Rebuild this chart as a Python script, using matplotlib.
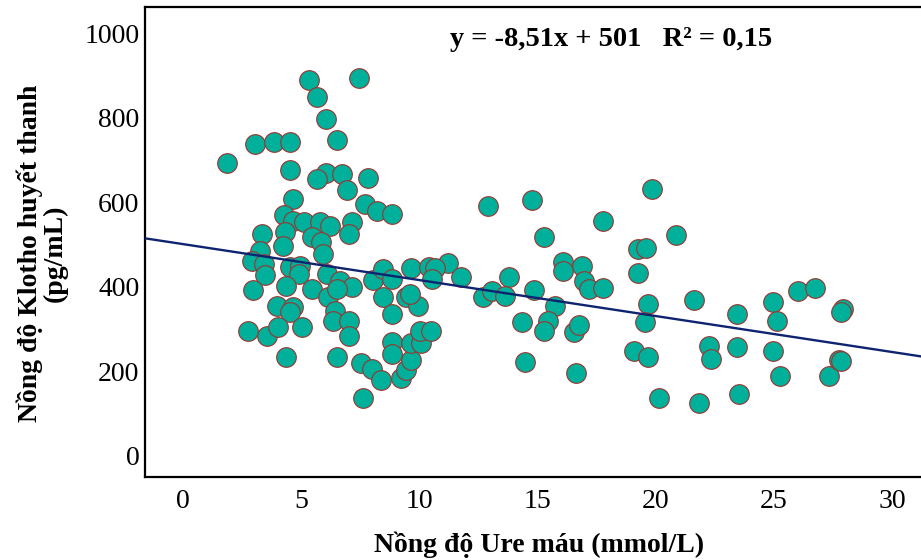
import numpy as np
import matplotlib
matplotlib.use('Agg')
import matplotlib.pyplot as plt

# nong do ure mau (mmol/L) va klotho huyet thanh (pg/mL), doc tu hinh
ure = [5.34, 7.46, 5.68, 6.06, 6.53, 3.05, 3.86, 4.53, 1.86, 4.53,
       6.06, 5.68, 6.74, 7.84, 6.95, 4.66, 7.71, 8.22, 8.86, 4.28,
       4.66, 5.13, 5.81, 6.23, 7.16, 3.35, 4.32, 7.03, 5.47, 5.85,
       4.24, 3.26, 5.93, 11.19, 2.92, 3.43, 4.53, 4.96, 3.47, 4.92,
       6.10, 6.65, 4.36, 5.47, 2.97, 6.14, 7.16, 6.53, 3.98, 4.66,
       4.53, 6.44, 6.36, 7.03, 2.75, 3.56, 4.03, 5.04, 7.03, 4.36,
       6.53, 7.54, 8.01, 8.39, 7.63, 8.86, 8.86, 9.24, 9.45, 9.66,
       9.66, 10.08, 10.04, 10.47, 8.05, 8.47, 8.86, 8.47, 9.45, 9.92,
       8.86, 9.66, 10.42, 10.64, 10.55, 11.74, 12.71, 13.09, 12.92, 14.75,
       19.83, 17.75, 15.25, 20.85, 19.24, 19.58, 16.06, 16.06, 16.86, 16.95,
       17.16, 17.75, 19.24, 13.81, 13.64, 14.83, 15.72, 14.36, 15.42, 15.25,
       16.53, 16.74, 19.66, 19.53, 21.61, 23.43, 24.96, 25.13, 26.02, 26.74,
       27.92, 27.84, 14.45, 16.61, 19.07, 19.66, 22.25, 22.33, 23.43, 24.96,
       25.25, 27.33, 27.75, 27.84, 20.13, 21.82, 23.52, 9.58]
klotho = [889, 894, 849, 797, 747, 738, 742, 742, 693, 676,
          669, 655, 667, 657, 629, 608, 596, 579, 572, 570,
          556, 553, 553, 544, 553, 525, 530, 525, 518, 506,
          496, 485, 478, 456, 461, 454, 447, 449, 428, 430,
          430, 414, 402, 395, 392, 376, 400, 395, 355, 352,
          340, 343, 319, 319, 296, 284, 305, 305, 284, 234,
          234, 220, 206, 180, 137, 270, 241, 184, 203, 227,
          267, 267, 296, 296, 416, 442, 418, 376, 376, 355,
          336, 444, 447, 444, 418, 423, 376, 390, 591, 605,
          631, 556, 518, 522, 489, 492, 459, 437, 449, 414,
          395, 397, 433, 423, 378, 392, 355, 317, 319, 296,
          293, 310, 359, 317, 369, 336, 364, 319, 390, 397,
          348, 340, 222, 196, 248, 234, 260, 229, 258, 248,
          189, 189, 227, 224, 137, 125, 147, 383]

# duong hoi quy theo phuong trinh tren hinh
he_so_a = -8.51
he_so_b = 501
phuong_trinh = 'y = -8,51x + 501   R² = 0,15'

plt.rcParams['font.family'] = ['Liberation Serif', 'DejaVu Serif']

fig = plt.figure(figsize=(9.21, 5.6), dpi=100)
ax = fig.add_axes([145/921, 83/560, 785/921, 470/560])

ax.scatter(ure, klotho, s=200, c='#00B09A', edgecolors='#9A3530',
           linewidths=0.8, zorder=2)

xmin, xmax = -1.61, 31.6
xs = np.array([xmin, xmax])
ax.plot(xs, he_so_a * xs + he_so_b, color='#0E2470', lw=1.7, zorder=3)

ax.set_xlim(xmin, xmax)
ax.set_ylim(-50, 1062)
ax.set_xticks([0, 5, 10, 15, 20, 25, 30])
ax.set_yticks([0, 200, 400, 600, 800, 1000])
ax.tick_params(length=0, labelsize=20)
ax.tick_params(axis='x', pad=9)
ax.tick_params(axis='y', pad=4)
for s in ['left', 'bottom', 'top', 'right']:
    ax.spines[s].set_linewidth(1.6)

fig.text(42/921, 1 - 253/560, 'Nồng độ Klotho huyết thanh\n(pg/mL)',
         rotation=90, ha='center', va='center', multialignment='center',
         fontsize=20, fontweight='bold', linespacing=0.95)
fig.text(539/921, 1 - 545/560, 'Nồng độ Ure máu (mmol/L)',
         ha='center', va='center', fontsize=20, fontweight='bold')
fig.text(611/921, 1 - 40/560, phuong_trinh,
         ha='center', va='center', fontsize=20.5, fontweight='bold')

fig.savefig('out.png', dpi=100)
